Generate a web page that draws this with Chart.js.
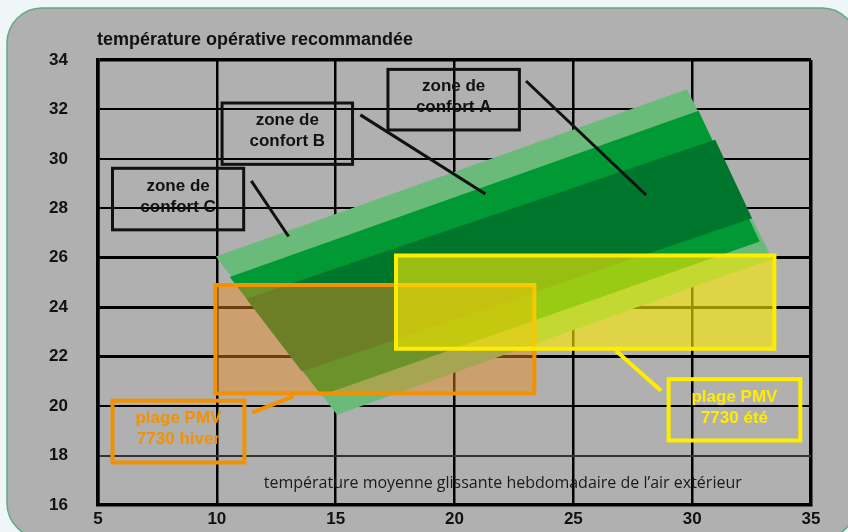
<!DOCTYPE html>
<html>
<head>
<meta charset="utf-8">
<script src="https://cdn.jsdelivr.net/npm/chart.js@4.4.1/dist/chart.umd.min.js"></script>
<style>
  html, body { margin: 0; padding: 0; background: #eef6f7; }
  #chart { display: block; }
</style>
</head>
<body>
<canvas id="chart" width="848" height="532"></canvas>
<script>
// axis ticks
const xTicks = [5, 10, 15, 20, 25, 30, 35]
const yTicks = [16, 18, 20, 22, 24, 26, 28, 30, 32, 34]

// comfort zones, corners read clockwise from top-left
// x = outdoor running mean temperature, y = operative temperature
const zoneCX = [9.96, 29.78, 33.37, 15.06]
const zoneCY = [26.05, 32.82, 25.96, 19.65]
const zoneBX = [10.54, 30.27, 32.84, 14.40]
const zoneBY = [25.22, 31.95, 26.66, 20.44]
const zoneAX = [11.24, 30.97, 32.52, 13.58]
const zoneAY = [24.34, 30.77, 27.60, 21.40]

// PMV ranges (7730), [min, max]
const winterX = [9.94, 23.36]
const winterY = [20.51, 24.90]
const summerX = [17.54, 33.46]
const summerY = [22.32, 26.09]

const FONT = '"Liberation Sans", Arial, sans-serif'

function closedShape(xs, ys) {
  const pts = xs.map((x, i) => ({ x, y: ys[i] }))
  pts.push(pts[0])
  return pts
}

function rectShape(xs, ys) {
  return closedShape([xs[0], xs[1], xs[1], xs[0]], [ys[1], ys[1], ys[0], ys[0]])
}

// label boxes and leader lines, in data units
const callouts = [
  { lines: ['zone de', 'confort A'], color: '#111', width: 3, box: [17.20, 33.62, 22.73, 31.17], leader: [23.01, 33.15, 28.06, 28.54] },
  { lines: ['zone de', 'confort B'], color: '#111', width: 3, box: [10.22, 32.26, 15.71, 29.78], leader: [16.04, 31.78, 21.30, 28.58] },
  { lines: ['zone de', 'confort C'], color: '#111', width: 3, box: [5.61, 29.62, 11.13, 27.13], leader: [11.45, 29.11, 13.02, 26.86] },
  { lines: ['plage PMV', '7730 hiver'], color: '#f39200', width: 4, box: [5.61, 20.22, 11.16, 17.72], leader: [11.48, 19.74, 13.23, 20.39] },
  { lines: ['plage PMV', '7730 été'], color: '#ffed00', width: 4, box: [29.01, 21.09, 34.55, 18.61], leader: [26.79, 22.24, 28.69, 20.62] }
]

const panel = {
  id: 'panel',
  beforeDraw(chart) {
    const ctx = chart.ctx
    ctx.save()
    ctx.fillStyle = '#eef6f7'
    ctx.fillRect(0, 0, chart.width, chart.height)
    ctx.beginPath()
    ctx.roundRect(7, 8, 850, 530, 35)
    ctx.fillStyle = '#b0b0b0'
    ctx.fill()
    ctx.lineWidth = 1.5
    ctx.strokeStyle = '#62aa86'
    ctx.stroke()
    ctx.restore()
  }
}

const notes = {
  id: 'notes',
  afterDatasetsDraw(chart) {
    const ctx = chart.ctx
    const xs = chart.scales.x
    const ys = chart.scales.y
    const px = v => xs.getPixelForValue(v)
    const py = v => ys.getPixelForValue(v)
    ctx.save()

    callouts.forEach(c => {
      const x1 = px(c.box[0]), y1 = py(c.box[1])
      const x2 = px(c.box[2]), y2 = py(c.box[3])
      ctx.strokeStyle = c.color
      ctx.lineWidth = c.width
      ctx.lineJoin = 'miter'
      ctx.strokeRect(x1, y1, x2 - x1, y2 - y1)

      ctx.beginPath()
      ctx.moveTo(px(c.leader[0]), py(c.leader[1]))
      ctx.lineTo(px(c.leader[2]), py(c.leader[3]))
      ctx.stroke()

      const cx = (x1 + x2) / 2
      const cy = (y1 + y2) / 2
      ctx.fillStyle = c.color
      ctx.font = 'bold 17px ' + FONT
      ctx.textAlign = 'center'
      ctx.textBaseline = 'middle'
      ctx.fillText(c.lines[0], cx, cy - 13)
      ctx.fillText(c.lines[1], cx, cy + 8)
    })

    // axis titles
    ctx.fillStyle = '#111'
    ctx.font = 'bold 18px ' + FONT
    ctx.textAlign = 'left'
    ctx.textBaseline = 'middle'
    ctx.fillText('température opérative recommandée', chart.chartArea.left - 1, 40)

    ctx.font = '16px "Open Sans", sans-serif'
    ctx.textAlign = 'center'
    ctx.fillStyle = '#1a1a1a'
    ctx.fillText('température moyenne glissante hebdomadaire de l’air extérieur', px(22.03), py(16.86))
    ctx.restore()
  }
}

const shapeStyle = {
  showLine: true,
  fill: 'shape',
  pointRadius: 0,
  tension: 0,
  borderJoinStyle: 'miter',
  borderCapStyle: 'square'
}

new Chart(document.getElementById('chart'), {
  type: 'scatter',
  data: {
    datasets: [
      { ...shapeStyle, label: 'zone de confort C', data: closedShape(zoneCX, zoneCY), backgroundColor: '#6aba7a', borderColor: 'rgba(0,0,0,0)', borderWidth: 0, order: 6 },
      { ...shapeStyle, label: 'zone de confort B', data: closedShape(zoneBX, zoneBY), backgroundColor: '#009933', borderColor: 'rgba(0,0,0,0)', borderWidth: 0, order: 5 },
      { ...shapeStyle, label: 'zone de confort A', data: closedShape(zoneAX, zoneAY), backgroundColor: '#00762d', borderColor: 'rgba(0,0,0,0)', borderWidth: 0, order: 4 },
      { ...shapeStyle, label: 'plage PMV 7730 hiver', data: rectShape(winterX, winterY), backgroundColor: 'rgba(240,140,30,0.45)', borderColor: '#f39200', borderWidth: 4, order: 2 },
      { ...shapeStyle, label: 'plage PMV 7730 été', data: rectShape(summerX, summerY), backgroundColor: 'rgba(255,237,0,0.6)', borderColor: '#ffed00', borderWidth: 4, order: 1 }
    ]
  },
  options: {
    responsive: false,
    animation: false,
    devicePixelRatio: 1,
    events: [],
    layout: { padding: { top: 60, right: 37, left: 0, bottom: 0 } },
    plugins: {
      legend: { display: false },
      tooltip: { enabled: false }
    },
    scales: {
      x: {
        type: 'linear',
        min: xTicks[0],
        max: xTicks[xTicks.length - 1],
        afterBuildTicks: s => { s.ticks = xTicks.map(v => ({ value: v })) },
        afterFit: s => { s.height = 27 },
        ticks: { color: '#111', font: { family: FONT, size: 17, weight: 'bold' }, padding: 4, maxRotation: 0, autoSkip: false },
        grid: {
          color: '#000',
          drawTicks: false,
          lineWidth: ctx => (ctx.tick && ctx.tick.value === 35 ? 3.5 : 2.5)
        },
        border: { display: true, color: '#000', width: 3.5 }
      },
      y: {
        min: yTicks[0],
        max: yTicks[yTicks.length - 1],
        afterBuildTicks: s => { s.ticks = yTicks.map(v => ({ value: v })) },
        afterFit: s => { s.width = 98 },
        // gap to the axis comes from invisible ticks, tick padding would also pad the bottom
        ticks: { color: '#111', font: { family: FONT, size: 17, weight: 'bold' }, padding: 0, autoSkip: false },
        grid: {
          drawTicks: true,
          tickLength: 30,
          tickColor: 'rgba(0,0,0,0)',
          color: ctx => (ctx.tick && ctx.tick.value === 18 ? '#333' : '#000'),
          lineWidth: ctx => {
            const v = ctx.tick ? ctx.tick.value : 0
            if (v === 34) return 3.5
            if (v === 22 || v === 24 || v === 26) return 3
            return 2
          }
        },
        border: { display: true, color: '#000', width: 3.5 }
      }
    }
  },
  plugins: [panel, notes]
})
</script>
</body>
</html>
